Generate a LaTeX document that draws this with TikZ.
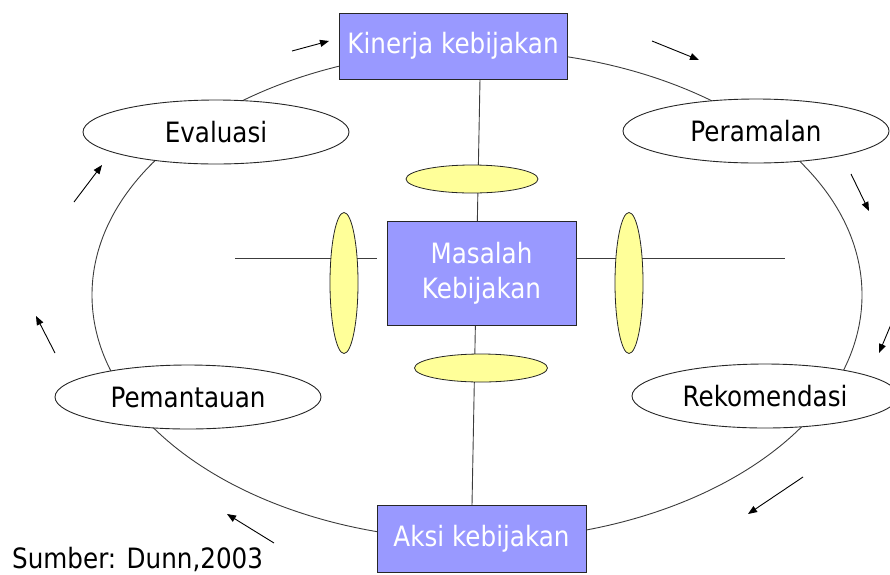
\documentclass[tikz,border=0pt]{standalone}
\usepackage{fontspec}
\setmainfont{DejaVu Sans}[FakeStretch=0.88]
\usetikzlibrary{shapes.geometric,arrows.meta,backgrounds}
\definecolor{boxblue}{HTML}{9999FF}
\definecolor{lensyellow}{HTML}{FFFF99}
\definecolor{garis}{HTML}{3C3C3C}
\tikzset{
  tahap/.style={draw=black!85, fill=white, ellipse, inner sep=0pt,
    minimum width=266pt, minimum height=64pt, line width=0.9pt},
  kotak/.style={draw=black!85, fill=boxblue, text=white, rectangle, inner sep=0pt,
    line width=0.9pt, align=center},
  lensa/.style={draw=black!85, fill=lensyellow, ellipse, inner sep=0pt, line width=0.8pt},
  panah/.style={-{Triangle[length=9pt,width=7pt]}, line width=0.9pt},
}
\begin{document}
\begin{tikzpicture}[x=1pt, y=-1pt, font=\fontsize{28}{35}\selectfont]
    \useasboundingbox (0,0) rectangle (890,574);

    % tahap-tahap siklus
    \node[tahap] (evaluasi) at (216,132) {Evaluasi};
    \node[tahap] (peramalan) at (756,131) {Peramalan};
    \node[tahap] (pemantauan) at (188,397) {Pemantauan};
    \node[tahap] (rekomendasi) at (765,396) {Rekomendasi};

    \node[kotak, minimum width=228pt, minimum height=66pt] (kinerja) at (453,46) {Kinerja kebijakan};
    \node[kotak, minimum width=209pt, minimum height=67pt] (aksi) at (481.5,538.5) {Aksi kebijakan};
    \node[kotak, minimum width=189pt, minimum height=104pt] (masalah) at (481.5,273) {Masalah\\Kebijakan};

    % lensa kuning
    \node[lensa, minimum width=132pt, minimum height=28pt] (lensatop) at (472,179) {};
    \node[lensa, minimum width=133pt, minimum height=28pt] (lensabot) at (481,368) {};
    \node[lensa, minimum width=28pt, minimum height=141pt] (lensakiri) at (344,283) {};
    \node[lensa, minimum width=28pt, minimum height=141pt] (lensakanan) at (629,283) {};

    \coordinate (vtop) at (480,79);
    \coordinate (vbot) at (472,505);
    \coordinate (hkiri) at (235,258);
    \coordinate (hgap) at (377,258);
    \coordinate (hkanan) at (785,258);

    \begin{pgfonlayer}{background}
    \draw[garis, line width=0.9pt] (477,295) ellipse [x radius=385, y radius=245];
    \draw[garis, line width=0.9pt] (vtop) -- (vbot);
    \draw[garis, line width=0.9pt] (hkiri) -- (hgap);
    \draw[garis, line width=0.9pt] (masalah.east |- hkanan) -- (hkanan);
    \end{pgfonlayer}

    % panah arah siklus
    \draw[panah] (292,51) -- (329,41);
    \draw[panah] (652,41) -- (699,60);
    \draw[panah] (851,174) -- (869,211);
    \draw[panah] (892,322) -- (879,353);
    \draw[panah] (803,477) -- (748,514);
    \draw[panah] (274,543) -- (227,514);
    \draw[panah] (55,353) -- (36,316);
    \draw[panah] (74,202) -- (102,165);

    \node[anchor=base west, inner sep=0pt] (sumber) at (12,568) {Sumber: Dunn,2003};
\end{tikzpicture}
\end{document}
